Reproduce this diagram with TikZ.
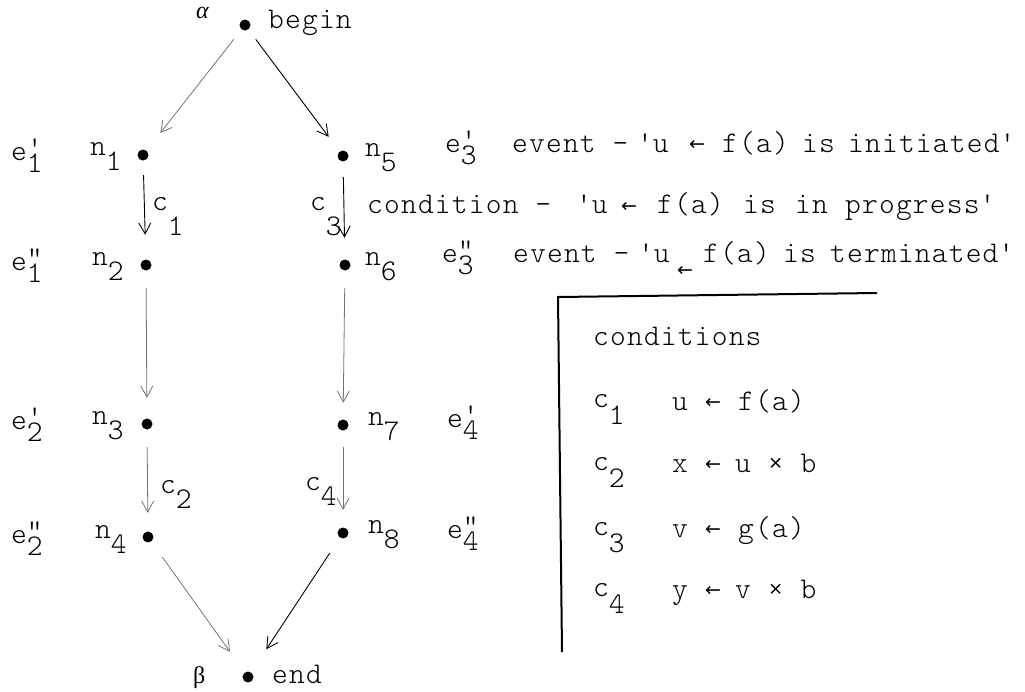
\documentclass[tikz,border=0pt]{standalone}
\usepackage{fontspec}
\usepackage{graphicx}
\usetikzlibrary{arrows.meta}
\newfontfamily\tw{lmmonolt10-regular.otf}[LetterSpace=4]
\newfontfamily\dv{DejaVu Sans}
\newfontfamily\ls{Liberation Serif}
\newcommand\lab[4][12pt]{#2\rlap{\raisebox{-#1}{#3}}\rlap{\raisebox{3pt}{#4}}\phantom{#3}}
\newcommand\q{\textquotesingle}
\newcommand\qq{\textquotedbl}
\tikzset{
  txt/.style={inner sep=0pt, anchor=base west, font=\tw\fontsize{30}{36}\selectfont},
  gk/.style={inner sep=0pt, anchor=base west, font=\ls\fontsize{24}{28}\selectfont},
  ar/.style={inner sep=0pt, font=\dv\fontsize{19}{22}\selectfont},
  dot/.style={circle, fill=black, inner sep=0pt, minimum size=11pt},
  dark/.style={draw=black, line width=0.9pt, -{Straight Barb[length=11pt,width=12pt]}},
  faint/.style={draw=black!55, line width=0.8pt, -{Straight Barb[length=11pt,width=12pt]}},
  rule/.style={draw=black, line width=2pt}
}
\begin{document}
\begin{tikzpicture}[x=1pt,y=-1pt]
\path[use as bounding box] (0,0) rectangle (1025,691);
% dots
\node[dot] (b) at (245,25) {};
\node[dot] (n1) at (143,155) {};
\node[dot] (n2) at (146,265) {};
\node[dot] (n3) at (147,424) {};
\node[dot] (n4) at (148,537) {};
\node[dot] (n5) at (343,156) {};
\node[dot] (n6) at (345,265) {};
\node[dot] (n7) at (343,425) {};
\node[dot] (n8) at (343,533) {};
\node[dot] (e) at (248,677) {};
% connectors
\draw[faint, shorten <=12.2pt, shorten >=22.3pt] (b) -- (n1);
\draw[dark, shorten <=12.2pt, shorten >=18.2pt] (b) -- (n5);
\draw[dark, shorten <=14.5pt, shorten >=24.5pt] (n1) -- (n2);
\draw[faint, shorten <=17.5pt, shorten >=20.5pt] (n2) -- (n3);
\draw[faint, shorten <=17.5pt, shorten >=18.5pt] (n3) -- (n4);
\draw[dark, shorten <=15.5pt, shorten >=21.5pt] (n5) -- (n6);
\draw[faint, shorten <=17.5pt, shorten >=16.5pt] (n6) -- (n7);
\draw[faint, shorten <=16.5pt, shorten >=17.5pt] (n7) -- (n8);
\draw[faint, shorten <=18.9pt, shorten >=25.3pt] (n4) -- (e);
\draw[dark, shorten <=18.3pt, shorten >=27.5pt] (n8) -- (e);
% begin / end
\node[gk] (alpha) at (196,18) {\itshape α};
\node[txt] (tbegin) at (268,28) {begin};
\node[gk] (beta) at (193,683) {β};
\node[txt] (tend) at (272,683) {end};
% left labels
\node[txt] (le1) at (11,160) {\lab{e}{1}{\q}};
\node[txt] (le2) at (11,270) {\lab{e}{1}{\qq}};
\node[txt] (le3) at (11,429) {\lab{e}{2}{\q}};
\node[txt] (le4) at (11,543) {\lab{e}{2}{\qq}};
\node[txt] (ln1) at (90,155) {\lab[15pt]{n}{1}{}};
\node[txt] (ln2) at (92,265) {\lab[15pt]{n}{2}{}};
\node[txt] (ln3) at (92,424) {\lab[15pt]{n}{3}{}};
\node[txt] (ln4) at (95,538) {\lab[15pt]{n}{4}{}};
% right labels
\node[txt] (ln5) at (365,156) {\lab[15pt]{n}{5}{}};
\node[txt] (ln6) at (365,265) {\lab[15pt]{n}{6}{}};
\node[txt] (ln7) at (368,425) {\lab[15pt]{n}{7}{}};
\node[txt] (ln8) at (368,533) {\lab[15pt]{n}{8}{}};
\node[txt] (re3a) at (445,152) {\lab{e}{3}{\q}};
\node[txt] (re3b) at (442,262) {\lab{e}{3}{\qq}};
\node[txt] (re4a) at (447,427) {\lab{e}{4}{\q}};
\node[txt] (re4b) at (447,538) {\lab{e}{4}{\qq}};
% condition labels on arrows
\node[txt] (c1) at (152,210) {\lab[25pt]{c}{1}{}};
\node[txt] (c2) at (160,493) {\lab[15pt]{c}{2}{}};
\node[txt] (c3) at (310,210) {\lab[25pt]{c}{3}{}};
\node[txt] (c4) at (305,490) {\lab[15pt]{c}{4}{}};
% event line 1
\node[txt] (l1a) at (512,152) {event -};
\node[txt] (l1b) at (637,152) {\q u};
\node[ar] (l1c) at (697,145) {←};
\node[txt] (l1d) at (722,152) {f(a)};
\node[txt] (l1e) at (802,152) {is};
\node[txt] (l1f) at (848,152) {initiated\q};
% condition line
\node[txt] (l2a) at (367,213) {condition -};
\node[txt] (l2b) at (576,213) {\q u};
\node[ar] (l2c) at (629,207) {←};
\node[txt] (l2d) at (657,213) {f(a)};
\node[txt] (l2e) at (743,213) {is};
\node[txt] (l2f) at (795,213) {in};
\node[txt] (l2g) at (845,213) {progress\q};
% event line 3
\node[txt] (l3a) at (513,262) {event -};
\node[txt] (l3b) at (638,262) {\q u};
\node[ar] (l3c) at (685,271) {←};
\node[txt] (l3d) at (703,262) {f(a)};
\node[txt] (l3e) at (783,262) {is};
\node[txt] (l3f) at (830,262) {terminated\q};
% table
\coordinate (tl) at (558,297);
\coordinate (tr) at (877,293);
\coordinate (bl) at (562,652);
\draw[rule] (tr) -- (tl) -- (bl);
\node[txt] (hd) at (593,345) {conditions};
\node[txt] (k1) at (593,407) {\lab[17pt]{c}{1}{}};
\node[txt] (k2) at (593,470) {\lab[17pt]{c}{2}{}};
\node[txt] (k3) at (593,535) {\lab[17pt]{c}{3}{}};
\node[txt] (k4) at (593,596) {\lab[17pt]{c}{4}{}};
\node[txt] (v1) at (672,410) {u};
\node[ar] (a1) at (713,403) {←};
\node[txt] (w1) at (738,410) {f(a)};
\node[txt] (v2) at (672,472) {x};
\node[ar] (a2) at (713,465) {←};
\node[txt] (w2) at (735,472) {u × b};
\node[txt] (v3) at (672,537) {v};
\node[ar] (a3) at (713,530) {←};
\node[txt] (w3) at (738,537) {g(a)};
\node[txt] (v4) at (672,598) {y};
\node[ar] (a4) at (713,591) {←};
\node[txt] (w4) at (735,598) {v × b};
\end{tikzpicture}
\end{document}
